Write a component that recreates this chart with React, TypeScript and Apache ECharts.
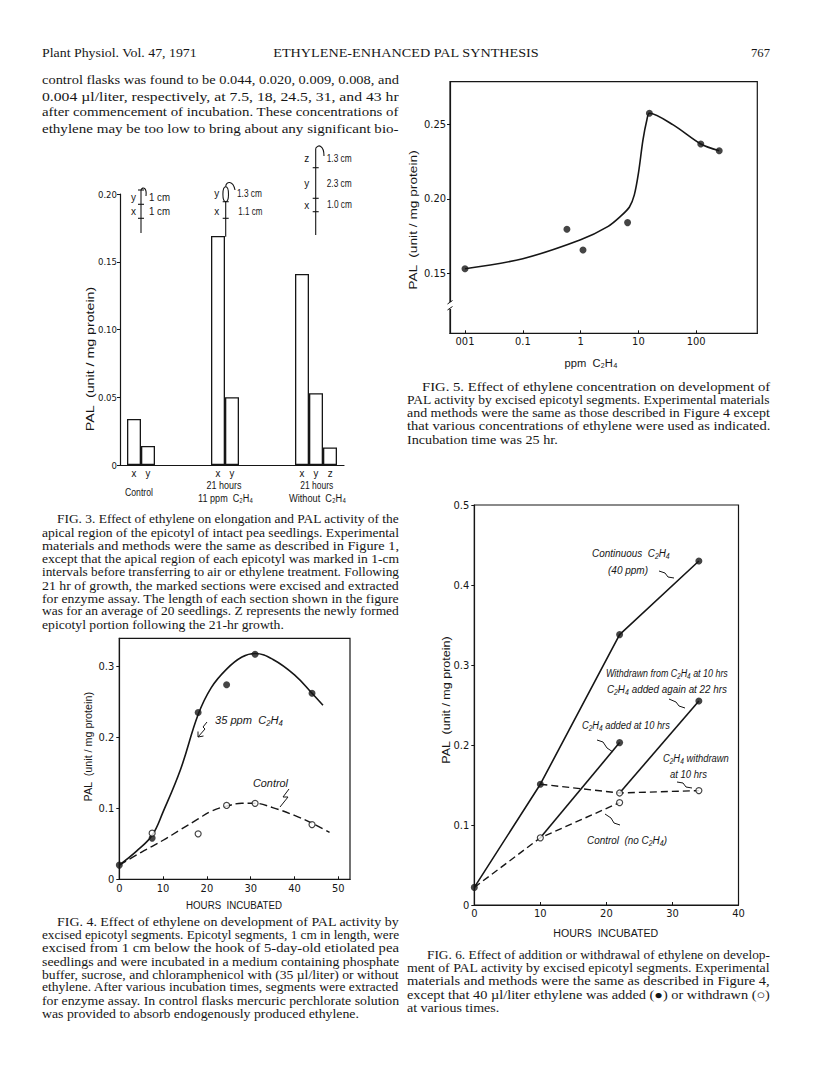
import React, { useEffect, useRef } from 'react';
import * as echarts from 'echarts';

const INK = '#161616';
const SERIF = "'Liberation Serif', 'Times New Roman', serif";
const SANS_W = "'Liberation Sans', Arial, sans-serif";
const SANS_N = "'Liberation Sans Narrow', 'DejaVu Sans Condensed', 'Liberation Sans', sans-serif";

// ---------- page text ----------
const headerLeft = 'Plant Physiol. Vol. 47, 1971';
const headerTitle = 'ETHYLENE-ENHANCED PAL SYNTHESIS';
const headerPage = '767';
const bodyLines = [
  'control flasks was found to be 0.044, 0.020, 0.009, 0.008, and',
  '0.004 µl/liter, respectively, at 7.5, 18, 24.5, 31, and 43 hr',
  'after commencement of incubation. These concentrations of',
  'ethylene may be too low to bring about any significant bio-',
];
const fig3Caption = [
  'FIG. 3. Effect of ethylene on elongation and PAL activity of the',
  'apical region of the epicotyl of intact pea seedlings. Experimental',
  'materials and methods were the same as described in Figure 1,',
  'except that the apical region of each epicotyl was marked in 1-cm',
  'intervals before transferring to air or ethylene treatment. Following',
  '21 hr of growth, the marked sections were excised and extracted',
  'for enzyme assay. The length of each section shown in the figure',
  'was for an average of 20 seedlings. Z represents the newly formed',
  'epicotyl portion following the 21-hr growth.',
];
const fig4Caption = [
  'FIG. 4. Effect of ethylene on development of PAL activity by',
  'excised epicotyl segments. Epicotyl segments, 1 cm in length, were',
  'excised from 1 cm below the hook of 5-day-old etiolated pea',
  'seedlings and were incubated in a medium containing phosphate',
  'buffer, sucrose, and chloramphenicol with (35 µl/liter) or without',
  'ethylene. After various incubation times, segments were extracted',
  'for enzyme assay. In control flasks mercuric perchlorate solution',
  'was provided to absorb endogenously produced ethylene.',
];
const fig5Caption = [
  'FIG. 5. Effect of ethylene concentration on development of',
  'PAL activity by excised epicotyl segments. Experimental materials',
  'and methods were the same as those described in Figure 4 except',
  'that various concentrations of ethylene were used as indicated.',
  'Incubation time was 25 hr.',
];
const fig6Caption = [
  'FIG. 6. Effect of addition or withdrawal of ethylene on develop-',
  'ment of PAL activity by excised epicotyl segments. Experimental',
  'materials and methods were the same as described in Figure 4,',
  'except that 40 µl/liter ethylene was added (●) or withdrawn (○)',
  'at various times.',
];

// ---------- Fig. 3 (bars) ----------
const fig3Slots = [1, 2, 7, 8, 13, 14, 15];
const fig3Sections = ['x', 'y', 'x', 'y', 'x', 'y', 'z'];
const fig3Pal = [0.034, 0.014, 0.169, 0.05, 0.141, 0.053, 0.013];
const fig3YTicks = [0, 0.05, 0.1, 0.15, 0.2];
const fig3YTickLabels = ['0', '0.05', '0.10', '0.15', '0.20'];

// ---------- Fig. 4 ----------
const fig4Hours = [0, 7.5, 18, 24.5, 31, 44];
const fig4Ethylene = [0.02, 0.058, 0.235, 0.274, 0.317, 0.262];
const fig4Control = [0.02, 0.065, 0.064, 0.104, 0.107, 0.077];
const fig4EthCurveH = [0, 4, 7.5, 10, 14, 18, 21, 24.5, 28, 31, 35, 40, 44, 46.5];
const fig4EthCurvePal = [0.02, 0.04, 0.062, 0.095, 0.155, 0.232, 0.27, 0.296, 0.313, 0.318, 0.31, 0.288, 0.262, 0.245];
const fig4CtlCurveH = [0, 5, 10, 14, 18, 21, 24.5, 28, 31, 35, 40, 44, 48];
const fig4CtlCurvePal = [0.02, 0.038, 0.055, 0.07, 0.085, 0.096, 0.103, 0.107, 0.107, 0.101, 0.09, 0.079, 0.066];
const fig4XTicks = [0, 10, 20, 30, 40, 50];
const fig4YTicks = [0, 0.1, 0.2, 0.3];

// ---------- Fig. 5 ----------
const fig5Ppm = [0.01, 0.58, 1.1, 6.5, 15.5, 120, 250];
const fig5Pal = [0.153, 0.1795, 0.1656, 0.184, 0.2574, 0.2368, 0.2323];
const fig5CurvePpm = [0.01, 0.1, 1, 3, 5, 7, 8.5, 10, 12, 14, 15.5, 40, 120, 250];
const fig5CurvePal = [0.153, 0.1598, 0.1725, 0.1815, 0.1885, 0.1945, 0.2026, 0.217, 0.2395, 0.2529, 0.2574, 0.2496, 0.2368, 0.2323];
const fig5XTickPpm = [0.01, 0.1, 1, 10, 100];
const fig5XTickLabels = ['001', '0.1', '1', '10', '100'];
const fig5YTicks = [0.15, 0.2, 0.25];

// ---------- Fig. 6 ----------
const fig6ContinuousH = [0, 10, 22, 34];
const fig6ContinuousPal = [0.022, 0.151, 0.338, 0.43];
const fig6AddedH = [10, 22];
const fig6AddedPal = [0.084, 0.203];
const fig6ReAddedH = [22, 34];
const fig6ReAddedPal = [0.14, 0.255];
const fig6WithdrawnH = [10, 22, 34];
const fig6WithdrawnPal = [0.151, 0.14, 0.143];
const fig6ControlH = [0, 10, 22];
const fig6ControlPal = [0.022, 0.084, 0.128];
const fig6XTicks = [0, 10, 20, 30, 40];
const fig6YTicks = [0, 0.1, 0.2, 0.3, 0.4, 0.5];

// ---------- helpers ----------
const pts = (xs: number[], ys: number[]) => xs.map((x, i) => [x, ys[i]]);
let measureCtx: CanvasRenderingContext2D | null = null;
function measure(text: string, font: string) {
  if (!measureCtx) measureCtx = document.createElement('canvas').getContext('2d');
  if (!measureCtx) return 0;
  measureCtx.font = font;
  return measureCtx.measureText(text).width;
}
type TOpt = { w?: number; sx?: number; size?: number; family?: string; italic?: boolean; align?: string; rot?: number; weight?: string };
function fontOf(o: TOpt) {
  return `${o.italic ? 'italic' : 'normal'} ${o.weight ?? 'normal'} ${o.size ?? 11}px ${o.family ?? SANS_W}`;
}
function txt(text: string, x: number, y: number, o: TOpt = {}) {
  const size = o.size ?? 11;
  const family = o.family ?? SANS_W;
  let sx = o.sx ?? 1;
  if (o.w) {
    const nat = measure(text, fontOf(o));
    if (nat > 0) sx = o.w / nat;
  }
  return {
    type: 'text', x, y, rotation: o.rot ?? 0, scaleX: sx, z: 50, silent: true,
    style: { text, fontSize: size, fontFamily: family, fontStyle: o.italic ? 'italic' : 'normal', fontWeight: o.weight ?? 'normal', fill: INK, align: o.align ?? 'left', verticalAlign: 'middle' },
  };
}
function para(lines: string[], x0: number, x1: number, indent: number, y0: number, dy: number, size: number, justifyLast = false) {
  const o: TOpt = { size, family: SERIF };
  const scales = lines.map((s, i) => {
    const x = i === 0 ? indent : x0;
    const nat = measure(s, fontOf(o));
    return nat > 0 ? (x1 - x) / nat : 1;
  });
  const n = justifyLast ? lines.length : lines.length - 1;
  const mean = scales.slice(0, n).reduce((a, c) => a + c, 0) / Math.max(1, n);
  return lines.map((s, i) => {
    const x = i === 0 ? indent : x0;
    const sx = i < n ? scales[i] : Math.min(mean, scales[i]);
    return txt(s, x, y0 + i * dy, { ...o, sx });
  });
}
const seg = (x1: number, y1: number, x2: number, y2: number, w = 1.1) => ({ type: 'line', z: 50, silent: true, shape: { x1, y1, x2, y2 }, style: { stroke: INK, lineWidth: w } });
const poly = (p: number[][], w = 1) => ({ type: 'polyline', z: 50, silent: true, shape: { points: p }, style: { stroke: INK, lineWidth: w, fill: null } });
const curve = (x1: number, y1: number, cpx1: number, cpy1: number, cpx2: number, cpy2: number, x2: number, y2: number) => ({
  type: 'bezierCurve', z: 50, silent: true, shape: { x1, y1, cpx1, cpy1, cpx2, cpy2, x2, y2 }, style: { stroke: INK, lineWidth: 1.1, fill: null },
});
const idxOf = (arr: number[], v: number) => arr.findIndex((t) => Math.abs(t - v) < 1e-6);

function baseAxis(gridIndex: number) {
  return {
    gridIndex, type: 'value', splitLine: { show: false },
    axisLine: { show: true, onZero: false, lineStyle: { color: INK, width: 1.2 } },
    axisTick: { show: true, length: 3, lineStyle: { color: INK, width: 1 } },
    axisLabel: { color: INK, fontFamily: SANS_N, fontSize: 11, margin: 4 },
  };
}

function buildOption() {
  const b = (i: number) => baseAxis(i);
  const logTicks = fig5XTickPpm.map(Math.log10);
  const xAxis = [
    { ...b(0), min: 0, max: 16, axisTick: { show: false },
      axisLabel: { ...b(0).axisLabel, fontSize: 10, margin: 3, customValues: fig3Slots, formatter: (v: number) => fig3Sections[idxOf(fig3Slots, v)] ?? '' } },
    { ...b(1), min: 0, max: 52.67,
      axisTick: { ...b(1).axisTick, inside: true, customValues: fig4XTicks },
      axisLabel: { ...b(1).axisLabel, customValues: fig4XTicks, formatter: (v: number) => String(Math.round(v)) } },
    { ...b(2), min: -2.2595, max: 3.057,
      axisTick: { ...b(2).axisTick, inside: true, customValues: logTicks },
      axisLabel: { ...b(2).axisLabel, margin: 3, customValues: logTicks, formatter: (v: number) => fig5XTickLabels[idxOf(logTicks, v)] ?? '' } },
    { ...b(3), min: 0, max: 40,
      axisTick: { ...b(3).axisTick, inside: true, customValues: fig6XTicks },
      axisLabel: { ...b(3).axisLabel, margin: 3, customValues: fig6XTicks, formatter: (v: number) => String(Math.round(v)) } },
  ];
  const yAxis = [
    { ...b(0), min: 0, max: 0.2,
      axisTick: { ...b(0).axisTick, customValues: fig3YTicks },
      axisLabel: { ...b(0).axisLabel, fontSize: 9.5, margin: 3, customValues: fig3YTicks, formatter: (v: number) => fig3YTickLabels[idxOf(fig3YTicks, v)] ?? '' } },
    { ...b(1), min: 0, max: 0.3394,
      axisTick: { ...b(1).axisTick, customValues: fig4YTicks },
      axisLabel: { ...b(1).axisLabel, margin: 5, customValues: fig4YTicks, formatter: (v: number) => (v === 0 ? '0' : v.toFixed(1)) } },
    { ...b(2), min: 0.1097, max: 0.2786,
      axisTick: { ...b(2).axisTick, customValues: fig5YTicks },
      axisLabel: { ...b(2).axisLabel, margin: 4, customValues: fig5YTicks, formatter: (v: number) => v.toFixed(2) } },
    { ...b(3), min: 0, max: 0.5,
      axisTick: { ...b(3).axisTick, customValues: fig6YTicks },
      axisLabel: { ...b(3).axisLabel, margin: 5, customValues: fig6YTicks, formatter: (v: number) => (v === 0 ? '0' : v.toFixed(1)) } },
  ];

  const solid = { color: INK, width: 1.6 };
  const dashed = { color: INK, width: 1.4, type: [8, 4] };
  const filled = { color: INK };
  const open = { color: '#fff', borderColor: INK, borderWidth: 1.2 };
  const lineS = (xi: number, data: number[][], ls: any, extra: any = {}) => ({
    type: 'line', xAxisIndex: xi, yAxisIndex: xi, data, showSymbol: false, symbol: 'none', lineStyle: ls, silent: true, ...extra,
  });
  const dots = (xi: number, data: number[][], st: any, size: number) => ({
    type: 'scatter', xAxisIndex: xi, yAxisIndex: xi, data, symbol: 'circle', symbolSize: size, itemStyle: st, silent: true, z: 5,
  });
  const L = (a: number[]) => a.map(Math.log10);

  const fig6Filled = [
    ...pts(fig6ContinuousH, fig6ContinuousPal),
    pts(fig6AddedH, fig6AddedPal)[1],
    pts(fig6ReAddedH, fig6ReAddedPal)[1],
  ];
  const fig6Open = [
    ...pts(fig6ControlH, fig6ControlPal).slice(1),
    ...pts(fig6WithdrawnH, fig6WithdrawnPal).slice(1),
  ];

  const series: any[] = [
    { type: 'bar', xAxisIndex: 0, yAxisIndex: 0, barWidth: 14, data: pts(fig3Slots, fig3Pal), silent: true,
      itemStyle: { color: '#fff', borderColor: INK, borderWidth: 1.3 } },
    lineS(1, pts(fig4EthCurveH, fig4EthCurvePal), solid, { smooth: 0.4 }),
    lineS(1, pts(fig4CtlCurveH, fig4CtlCurvePal), dashed, { smooth: 0.4 }),
    dots(1, pts(fig4Hours, fig4Ethylene), filled, 7),
    dots(1, pts(fig4Hours, fig4Control).slice(1), open, 6),
    lineS(2, pts(L(fig5CurvePpm), fig5CurvePal), solid, { smooth: 0.3 }),
    dots(2, pts(L(fig5Ppm), fig5Pal), filled, 7),
    lineS(3, pts(fig6ContinuousH, fig6ContinuousPal), solid),
    lineS(3, pts(fig6AddedH, fig6AddedPal), solid),
    lineS(3, pts(fig6ReAddedH, fig6ReAddedPal), solid),
    lineS(3, pts(fig6WithdrawnH, fig6WithdrawnPal), { ...dashed, type: [7, 4] }),
    lineS(3, pts(fig6ControlH, fig6ControlPal), { ...dashed, type: [7, 4] }),
    dots(3, fig6Filled, filled, 7),
    dots(3, fig6Open, open, 6),
  ];

  const g: any[] = [];
  // header
  g.push(txt(headerLeft, 42, 53, { size: 13, family: SERIF, w: 155 }));
  g.push(txt(headerTitle, 406, 53, { size: 13, family: SERIF, w: 266, align: 'center' }));
  g.push(txt(headerPage, 770, 53, { size: 13, family: SERIF, w: 19, align: 'right' }));
  // body
  g.push(...para(bodyLines, 42, 399, 42, 80, 16, 13, true));
  // captions
  g.push(...para(fig3Caption, 42, 399, 57, 519.3, 13.2, 12.2));
  g.push(...para(fig4Caption, 42, 399, 57, 921.7, 13.2, 12.2));
  g.push(...para(fig5Caption, 407, 770, 422, 386.7, 13.2, 12.2));
  g.push(...para(fig6Caption, 407, 770, 427, 955, 13.2, 12.2));

  // Fig. 3 annotations
  g.push(txt('PAL  (unit / mg protein)', 91, 359, { rot: Math.PI / 2, align: 'center', w: 145, size: 11 }));
  g.push(txt('Control', 139, 491.7, { align: 'center', w: 28, size: 11 }));
  g.push(txt('21 hours', 224, 485, { align: 'center', w: 35, size: 11 }));
  g.push(txt('11 ppm  C₂H₄', 225.6, 498.3, { align: 'center', w: 55, size: 11 }));
  g.push(txt('21 hours', 316.7, 485, { align: 'center', w: 33, size: 11 }));
  g.push(txt('Without  C₂H₄', 317.5, 498.3, { align: 'center', w: 57, size: 11 }));
  // diagram 1
  g.push(seg(141, 190, 141, 233), seg(138, 190, 144, 190), seg(138, 204.3, 144, 204.3), seg(138, 218.3, 144, 218.3));
  g.push(curve(141, 190, 143, 186, 147, 188, 146, 196));
  g.push(txt('y', 133.5, 197.3, { align: 'center', size: 10 }), txt('x', 133.5, 211.7, { align: 'center', size: 10 }));
  g.push(txt('1 cm', 149, 197.3, { w: 21, size: 10 }), txt('1 cm', 149, 211.7, { w: 21, size: 10 }));
  // diagram 2
  g.push(seg(225.7, 201.7, 225.7, 236.7), seg(222.7, 201.7, 228.7, 201.7), seg(222.7, 218.3, 228.7, 218.3));
  g.push({ type: 'ellipse', z: 50, silent: true, shape: { cx: 225.7, cy: 194.2, rx: 2.8, ry: 7.5 }, style: { stroke: INK, lineWidth: 1.1, fill: null } });
  g.push(curve(225.7, 186.7, 226, 181, 233, 180, 235, 190));
  g.push(txt('y', 216.7, 193.3, { align: 'center', size: 10 }), txt('x', 216.7, 211.7, { align: 'center', size: 10 }));
  g.push(txt('1.3 cm', 237, 193.3, { w: 25, size: 10 }), txt('1.1 cm', 238.3, 211.7, { w: 24, size: 10 }));
  // diagram 3
  g.push(seg(315.7, 148.3, 315.7, 235), seg(312.7, 167.7, 318.7, 167.7), seg(312.7, 198.3, 318.7, 198.3), seg(312.7, 211.7, 318.7, 211.7));
  g.push(curve(315.7, 148.3, 318, 144, 324, 145, 324, 156));
  g.push(txt('z', 306.7, 158.3, { align: 'center', size: 10 }), txt('y', 306.7, 183.3, { align: 'center', size: 10 }), txt('x', 306.7, 205, { align: 'center', size: 10 }));
  g.push(txt('1.3 cm', 326.7, 158.3, { w: 25, size: 10 }), txt('2.3 cm', 326.7, 183.3, { w: 25, size: 10 }), txt('1.0 cm', 327, 205, { w: 25, size: 10 }));

  // Fig. 4 annotations
  g.push(txt('PAL  (unit / mg protein)', 88.3, 746.7, { rot: Math.PI / 2, align: 'center', w: 110, size: 11 }));
  g.push(txt('HOURS  INCUBATED', 234, 905, { align: 'center', w: 96, size: 11 }));
  g.push(txt('35 ppm  C₂H₄', 215, 720, { italic: true, w: 68, size: 11 }));
  g.push(poly([[207, 722], [203, 727], [205, 729], [198, 737]]), poly([[198, 731.5], [198, 737], [203.5, 736]]));
  g.push(txt('Control', 253, 783.3, { italic: true, w: 35, size: 11 }));
  g.push(poly([[289, 789], [283, 797], [288, 797], [280, 807]]));

  // Fig. 5 annotations
  g.push(txt('PAL  (unit / mg protein)', 413.3, 220, { rot: Math.PI / 2, align: 'center', w: 140, size: 11 }));
  g.push(txt('ppm  C₂H₄', 591, 363, { align: 'center', w: 53, size: 11 }));
  g.push({ type: 'rect', z: 60, silent: true, shape: { x: 447, y: 302, width: 6, height: 7 }, style: { fill: '#fff' } });
  g.push({ ...seg(447.5, 304, 452.5, 300.5, 1), z: 61 }, { ...seg(447.5, 310, 452.5, 306.5, 1), z: 61 });

  // Fig. 6 annotations
  g.push(txt('PAL  (unit / mg protein)', 446, 700, { rot: Math.PI / 2, align: 'center', w: 128, size: 11 }));
  g.push(txt('HOURS  INCUBATED', 605.8, 933.3, { align: 'center', w: 105, size: 11 }));
  g.push(txt('Continuous  C₂H₄', 592, 553, { italic: true, w: 78, size: 11 }));
  g.push(txt('(40 ppm)', 608, 570, { italic: true, w: 40, size: 11 }));
  g.push(poly([[659, 571], [665, 573], [668, 577], [674, 578]]));
  g.push(txt('Withdrawn from C₂H₄ at 10 hrs', 606, 673, { italic: true, w: 122, size: 11 }));
  g.push(txt('C₂H₄ added again at 22 hrs', 607, 689, { italic: true, w: 120, size: 11 }));
  g.push(poly([[669, 699], [676, 702], [679, 706], [685, 708]]));
  g.push(txt('C₂H₄ added at 10 hrs', 582, 725, { italic: true, w: 88, size: 11 }));
  g.push(poly([[597, 740], [603, 742], [607, 748], [613, 752]]));
  g.push(txt('C₂H₄ withdrawn', 663, 758.3, { italic: true, w: 66, size: 11 }));
  g.push(txt('at 10 hrs', 670, 774, { italic: true, w: 37, size: 11 }));
  g.push(poly([[677, 782], [683, 783], [686, 787], [692, 788]]));
  g.push(txt('Control  (no C₂H₄)', 587, 840, { italic: true, w: 80, size: 11 }));
  g.push(poly([[620, 825], [614, 823], [611, 818], [605, 814]]));

  return {
    animation: false,
    backgroundColor: '#fff',
    grid: [
      { left: 120, top: 194, width: 224, height: 271 },
      { left: 119.3, top: 638.3, width: 230.7, height: 241, show: true, borderColor: INK, borderWidth: 1.2 },
      { left: 450, top: 81.7, width: 307.3, height: 251.6, show: true, borderColor: INK, borderWidth: 1.2 },
      { left: 474.3, top: 505, width: 264.2, height: 400, show: true, borderColor: INK, borderWidth: 1.2 },
    ],
    xAxis, yAxis, series,
    graphic: { elements: g },
  };
}

export default function App() {
  const ref = useRef<HTMLDivElement>(null);
  useEffect(() => {
    if (!ref.current) return;
    const chart = echarts.init(ref.current, null, { renderer: 'svg', width: 816, height: 1071 });
    chart.setOption(buildOption() as any);
    return () => chart.dispose();
  }, []);
  return <div ref={ref} style={{ position: 'absolute', left: 0, top: 0, width: 816, height: 1071, background: '#fff' }} />;
}
